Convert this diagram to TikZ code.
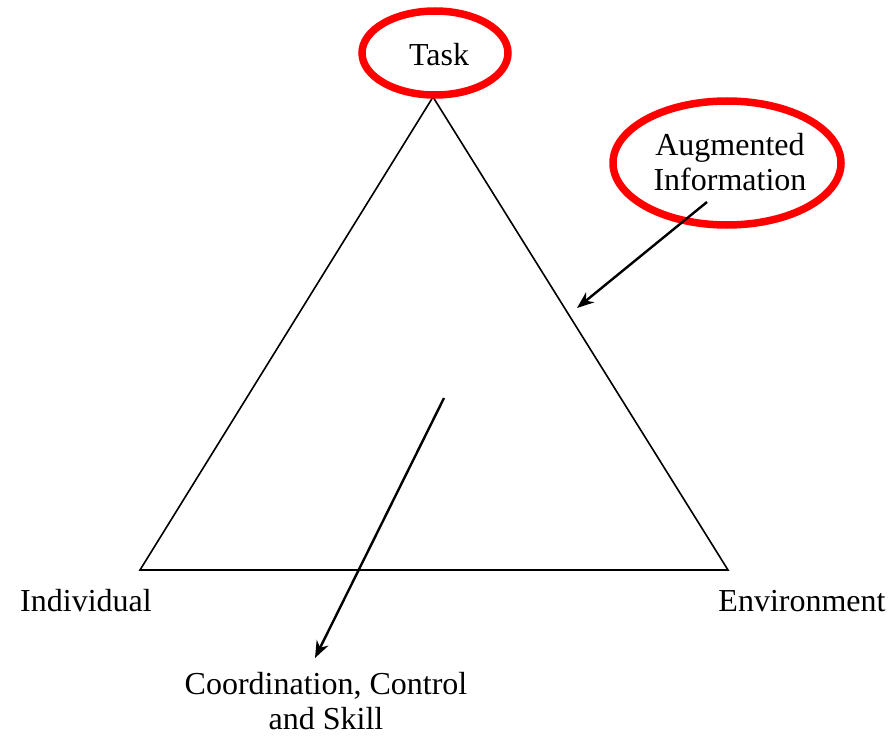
\documentclass[tikz,border=0pt]{standalone}
\usepackage{fontspec}
\setmainfont{Liberation Serif}
\usetikzlibrary{arrows,arrows.meta,positioning,shapes}
\tikzset{
    %Define standard arrow tip
    >={Stealth[length=17pt,width=13pt]},
    %Define style for labels
    lbl/.style={
    font=\fontsize{32}{35}\selectfont,
    align=center,
    inner sep=0pt
    },
    %Define style for the red rings
    ring/.style={
    ellipse,
    draw=red,
    line width=7.5pt
    },
    % Define arrow style
    pil/.style={
           ->,
           line width=2.4pt},
}
\begin{document}
\begin{tikzpicture}[x=1pt,y=-1pt]
\useasboundingbox (0,0) rectangle (894,738);
%corners
\coordinate (top) at (433,97);
\coordinate (lft) at (140,570);
\coordinate (rgt) at (728,570);
\draw[line width=1.6pt] (top) -- (lft) -- (rgt) -- cycle;
%labels
\node[lbl](task) at (439,55){Task};
\node[lbl](aug) at (730,162){Augmented\\Information};
\node[lbl](ind) at (86,601){Individual};
\node[lbl](env) at (802,601){Environment};
\node[lbl](ccs) at (326,701){Coordination, Control\\and Skill};
%rings
\node[ring, minimum width=146pt, minimum height=84pt](taskring) at (435,53){};
\node[ring, minimum width=228pt, minimum height=124pt](augring) at (727,163){};
%arrows
\coordinate (a1) at (707,202);
\coordinate (a2) at (577,308);
\coordinate (c1) at (444,398);
\coordinate (c2) at (315,658);
\draw[pil] (a1) -- (a2);
\draw[pil] (c1) -- (c2);
\end{tikzpicture}
\end{document}
